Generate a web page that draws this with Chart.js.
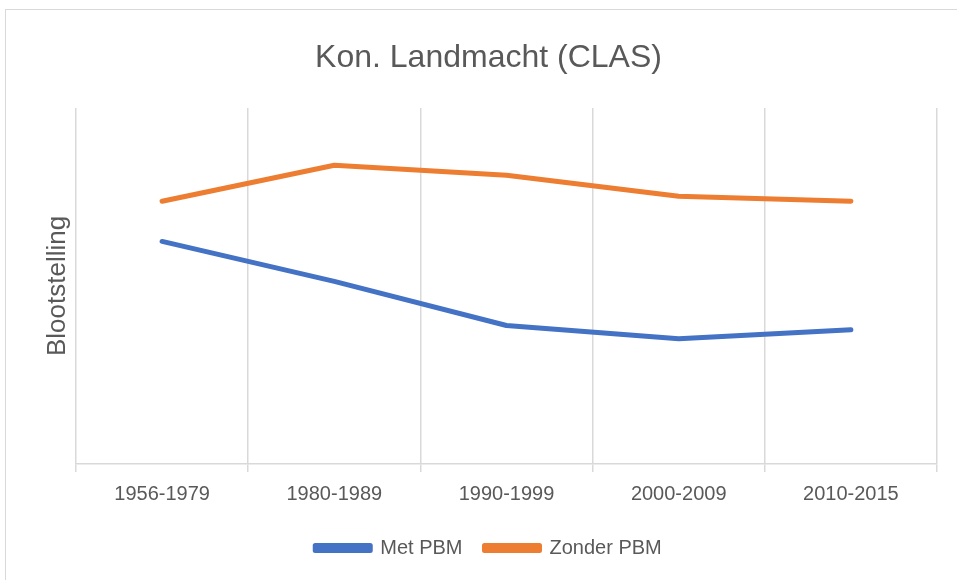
<!DOCTYPE html>
<html>
<head>
<meta charset="utf-8">
<script src="https://cdn.jsdelivr.net/npm/chart.js@4"></script>
<style>
    html, body { margin: 0; padding: 0; background: #fff; }
    #wrap { position: relative; width: 957px; height: 580px; }
    #frame { position: absolute; left: 5px; top: 9px; right: -10px; bottom: -10px; border-top: 1px solid #d9d9d9; border-left: 1px solid #d9d9d9; }
    canvas { position: absolute; left: 0; top: 0; }
</style>
</head>
<body>
<div id="wrap">
    <div id="frame"></div>
    <canvas id="chart" width="957" height="580"></canvas>
</div>
<script>
const periods = ['1956-1979', '1980-1989', '1990-1999', '2000-2009', '2010-2015'];
const metPBM = [62.5, 51.3, 38.9, 35.2, 37.7];
const zonderPBM = [73.8, 83.9, 81.1, 75.2, 73.8];

const textColor = '#595959';
const gridColor = '#d9d9d9';

document.addEventListener('DOMContentLoaded', function() {
    const ctx = document.getElementById('chart').getContext('2d');

    new Chart(ctx, {
        type: 'line',
        data: {
            labels: periods,
            datasets: [{
                label: 'Met PBM',
                data: metPBM,
                borderColor: '#4472c4',
                backgroundColor: '#4472c4',
                borderWidth: 5,
                borderCapStyle: 'round',
                borderJoinStyle: 'round',
                pointRadius: 0,
                tension: 0
            }, {
                label: 'Zonder PBM',
                data: zonderPBM,
                borderColor: '#ed7d31',
                backgroundColor: '#ed7d31',
                borderWidth: 5,
                borderCapStyle: 'round',
                borderJoinStyle: 'round',
                pointRadius: 0,
                tension: 0
            }]
        },
        options: {
            responsive: false,
            animation: false,
            layout: { padding: { left: 20, right: 0, top: 0, bottom: 12 } },
            plugins: {
                title: {
                    display: true,
                    text: 'Kon. Landmacht (CLAS)',
                    color: textColor,
                    font: { family: 'Liberation Sans', size: 32, weight: 'normal' },
                    padding: { top: 39, bottom: 30.5 }
                },
                legend: {
                    position: 'bottom',
                    labels: {
                        color: textColor,
                        font: { family: 'Liberation Sans', size: 20 },
                        boxWidth: 55,
                        boxHeight: 5,
                        padding: 22
                    }
                },
                tooltip: { enabled: false }
            },
            scales: {
                x: {
                    offset: true,
                    grid: {
                        offset: true,
                        color: gridColor,
                        lineWidth: 1.5,
                        tickLength: 8
                    },
                    border: { color: gridColor, width: 1.5 },
                    ticks: {
                        color: textColor,
                        font: { family: 'Liberation Sans', size: 20 },
                        padding: 10,
                        maxRotation: 0
                    }
                },
                y: {
                    min: 0,
                    max: 100,
                    grid: { display: false },
                    border: { display: false },
                    ticks: { display: false },
                    title: {
                        display: true,
                        text: 'Blootstelling',
                        color: textColor,
                        font: { family: 'Liberation Sans', size: 26 },
                        padding: { top: 22, bottom: 0 }
                    },
                    afterFit: function(scale) {
                        scale.width = 56;
                    }
                },
                r: {
                    position: 'right',
                    min: 0,
                    max: 100,
                    grid: { display: false },
                    border: { display: false },
                    ticks: { display: false },
                    afterFit: function(scale) {
                        scale.width = 20;
                    }
                }
            }
        }
    });
});
</script>
</body>
</html>
